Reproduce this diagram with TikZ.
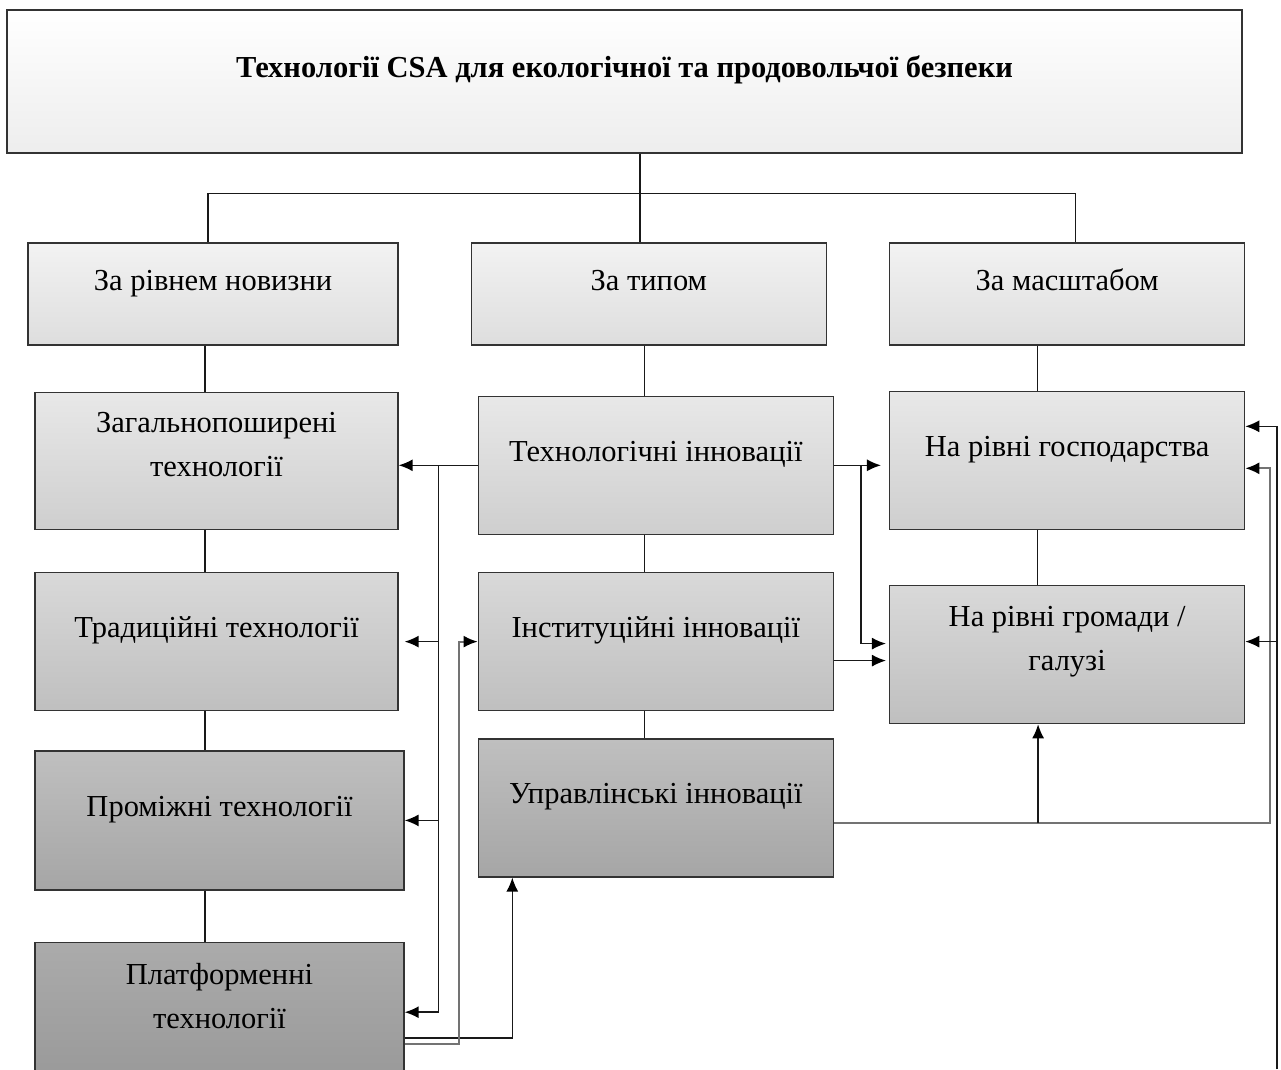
\documentclass[tikz,border=0pt]{standalone}
\usepackage{fontspec}
\setmainfont{Liberation Serif}
\usetikzlibrary{shapes,arrows.meta,positioning,calc}
\tikzset{
block/.style = {draw=black!80, line width=1.3pt, rectangle, align=center, inner sep=0pt,
  font=\fontsize{30.5}{44}\selectfont, text height=21pt, text depth=29pt,
  minimum width=355pt, minimum height=138pt},
twoline/.style = {text height=61pt, text depth=29pt},
lvl0/.style = {top color=white, bottom color=black!7},
lvl1/.style = {top color=black!5, bottom color=black!13},
lvl2/.style = {top color=black!9, bottom color=black!19},
lvl3/.style = {top color=black!15, bottom color=black!25},
lvl4/.style = {top color=black!25, bottom color=black!35},
lvl5/.style = {top color=black!33, bottom color=black!40},
link/.style = {draw=black!90, line width=1.5pt},
greylink/.style = {draw=black!55, line width=2pt},
}

\begin{document}
\begin{tikzpicture}[x=1pt, y=-1pt, >={Latex[length=14pt,width=12pt,color=black]}]
  \useasboundingbox (0,0) rectangle (1281,1069);
  \clip (0,0) rectangle (1281,1069);
  % title and three criteria
  \node [block, lvl0, minimum width=1235pt, minimum height=143pt,
         font=\bfseries\fontsize{30.5}{40}\selectfont] (title) at (624.5,81.5)
        {Технології CSA для екологічної та продовольчої безпеки};
  \node [block, lvl1, minimum width=370pt, minimum height=102pt] (novelty) at (213,294) {За рівнем новизни};
  \node [block, lvl1, minimum height=102pt, right=72pt of novelty] (type) {За типом};
  \node [block, lvl1, minimum height=102pt, right=62pt of type] (scale) {За масштабом};
  % left column
  \node [block, lvl2, twoline, minimum width=363pt, minimum height=137pt,
         below=46pt of novelty, xshift=3.5pt] (common) {Загальнопоширені\\технології};
  \node [block, lvl3, minimum width=363pt, below=42pt of common] (tradit) {Традиційні технології};
  \node [block, lvl4, minimum width=369pt, minimum height=139pt,
         below=39pt of tradit, xshift=3pt] (interm) {Проміжні технології};
  \node [block, lvl5, twoline, minimum width=369pt, minimum height=140pt,
         below=51pt of interm] (platf) {Платформенні\\технології};
  % middle column
  \node [block, lvl2, below=50pt of type, xshift=7pt] (techinn) {Технологічні інновації};
  \node [block, lvl3, below=37pt of techinn] (instinn) {Інституційні інновації};
  \node [block, lvl4, below=27pt of instinn] (mgmtinn) {Управлінські інновації};
  % right column
  \node [block, lvl2, below=45pt of scale] (farm) {На рівні господарства};
  \node [block, lvl3, twoline, below=55pt of farm] (commun) {На рівні громади /\\галузі};

  % tree
  \coordinate (fork) at ([xshift=15.5pt,yshift=-40pt]title.south);
  \draw [link] (title.south -| fork) -- (fork) -- (fork |- type.north);
  \draw [link] ([xshift=-5pt]novelty.north) |- (fork) -| ([xshift=8.5pt]scale.north);
  \coordinate (lx) at ([xshift=-8pt]novelty.south);
  \coordinate (mx) at ([xshift=-4.5pt]type.south);
  \coordinate (rx) at ([xshift=-29.5pt]scale.south);
  \draw [link] (lx) -- (lx |- common.north);
  \draw [link] (lx |- common.south) -- (lx |- tradit.north);
  \draw [link] (lx |- tradit.south) -- (lx |- interm.north);
  \draw [link] (lx |- interm.south) -- (lx |- platf.north);
  \draw [link] (mx) -- (mx |- techinn.north);
  \draw [link] (mx |- techinn.south) -- (mx |- instinn.north);
  \draw [link] (mx |- instinn.south) -- (mx |- mgmtinn.north);
  \draw [link] (rx) -- (rx |- farm.north);
  \draw [link] (rx |- farm.south) -- (rx |- commun.north);

  % arrows to the left column
  \coordinate (busl) at ([xshift=-39pt]techinn.west);
  \draw [link, ->] (techinn.west) -- (techinn.west -| common.east);
  \draw [link, ->] (busl) |- ([xshift=6pt]tradit.east);
  \draw [link, ->] (busl) |- (interm.east);
  \draw [link, ->] (busl) |- (platf.east);
  \draw [link, ->] ([yshift=-26pt]platf.east) -| ([xshift=-143.5pt]mgmtinn.south);
  \draw [greylink, ->] ([yshift=-32pt]platf.east) -| ([xshift=-19pt]instinn.west) -- (instinn.west);

  % arrows to the right column
  \coordinate (busr) at ([xshift=27pt]techinn.east);
  \coordinate (instout) at ([yshift=-19pt]instinn.east);
  \draw [link, ->, shorten >=8pt] (techinn.east) -- (techinn.east -| farm.west);
  \draw [link, ->, shorten >=3pt] (busr) |- ([yshift=11pt]commun.west);
  \draw [link, ->, shorten >=3pt] (instout) -- (instout -| commun.west);
  \coordinate (mgmtout) at ([yshift=-15pt]mgmtinn.east);
  \coordinate (farmin) at ([yshift=-8pt]farm.east);
  \coordinate (communin) at ([xshift=-29pt]commun.south);
  \draw [greylink, ->] (mgmtout) -| ([xshift=25pt]farmin) -- (farmin);
  \draw [link, ->] (mgmtout -| communin) -- (communin);
  \coordinate (rbus) at (1277,1069);
  \draw [link, ->] (rbus) |- ([yshift=34pt]farm.east);
  \draw [link, ->] (rbus) |- ([yshift=13pt]commun.east);
\end{tikzpicture}
\end{document}
